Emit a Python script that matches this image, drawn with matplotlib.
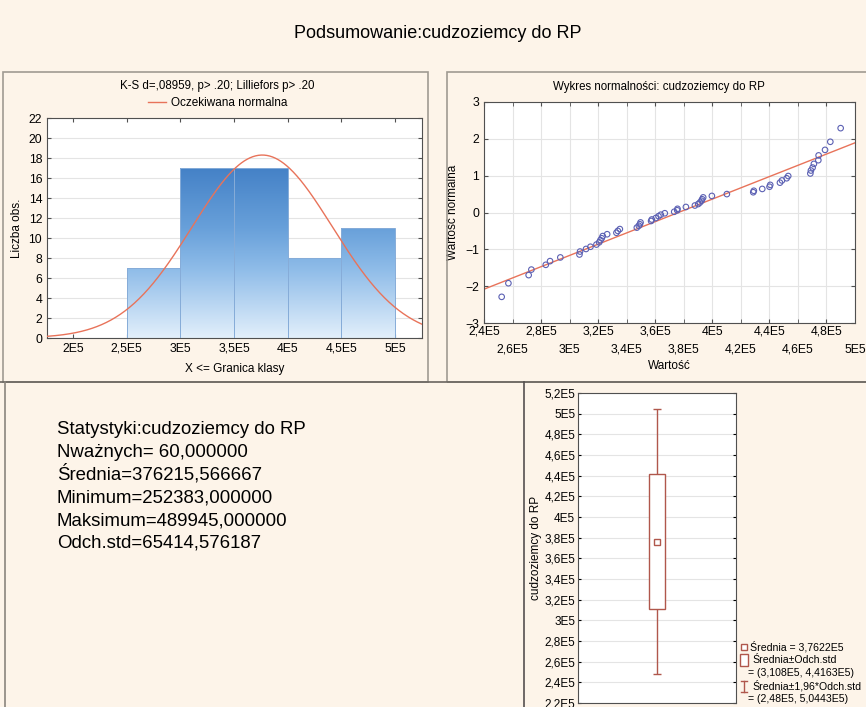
import matplotlib
matplotlib.use("Agg")
import matplotlib.pyplot as plt
import numpy as np
from matplotlib.colors import LinearSegmentedColormap
from matplotlib.patches import Rectangle
from matplotlib.lines import Line2D

plt.rcParams['font.family'] = ['Liberation Sans', 'DejaVu Sans']

values = [252383, 257100, 271300, 273200, 283300, 286300, 293500, 306900, 307300, 311500,
          314600, 318800, 320700, 321600, 322500, 323200, 326300, 332800, 333800, 335200,
          347100, 348500, 349200, 349700, 357100, 357600, 360400, 362300, 363900, 366700,
          373300, 375400, 375600, 381500, 387800, 390100, 391300, 392400, 392900, 393600,
          399700, 410200, 428700, 429100, 435000, 440100, 440600, 447400, 448800, 452100,
          453200, 468700, 469100, 470300, 471200, 474300, 474500, 479000, 482700, 489945]
normal_scores = [-2.29, -1.92, -1.70, -1.55, -1.42, -1.32, -1.22, -1.14, -1.06, -0.99,
                 -0.93, -0.87, -0.81, -0.75, -0.70, -0.64, -0.59, -0.55, -0.50, -0.45,
                 -0.41, -0.36, -0.32, -0.27, -0.23, -0.19, -0.15, -0.10, -0.06, -0.02,
                 0.02, 0.06, 0.10, 0.15, 0.19, 0.23, 0.27, 0.32, 0.36, 0.41,
                 0.45, 0.50, 0.55, 0.59, 0.64, 0.70, 0.75, 0.81, 0.87, 0.93,
                 0.99, 1.06, 1.14, 1.22, 1.32, 1.42, 1.55, 1.70, 1.92, 2.29]
bin_edges = [250000, 300000, 350000, 400000, 450000, 500000]

n_valid = 60
mean = 376215.566667
std = 65414.576187
minimum = 252383
maximum = 489945

stats_lines = ["Statystyki:cudzoziemcy do RP",
               "Nważnych= 60,000000",
               "Średnia=376215,566667",
               "Minimum=252383,000000",
               "Maksimum=489945,000000",
               "Odch.std=65414,576187"]
legend_lines = ["Średnia = 3,7622E5",
                "Średnia±Odch.std",
                "= (3,108E5, 4,4163E5)",
                "Średnia±1,96*Odch.std",
                "= (2,48E5, 5,0443E5)"]

W, H = 866, 707
BG = '#fdf4e9'
RED = '#e8735a'
BOXC = '#b0574c'
TICKFS = 8.8


def fx(px):
    return px / W


def fy(py):
    return 1 - py / H


def e5(v, pos=None):
    return f"{v / 1e5:g}".replace('.', ',') + "E5"


def style(ax):
    for s in ax.spines.values():
        s.set_color('#505050')
        s.set_linewidth(0.8)
    ax.tick_params(which='both', direction='in', length=3, labelsize=TICKFS, top=True,
                   right=True, color='#505050')


fig = plt.figure(figsize=(W / 100, H / 100), dpi=100)
fig.patch.set_facecolor(BG)

fig.text(fx(438), fy(33), "Podsumowanie:cudzoziemcy do RP", ha='center', va='center',
         fontsize=13)

# panel frames
fig.add_artist(Rectangle((fx(3), fy(382)), fx(425), (382 - 72) / H, fill=False,
                         ec='#a09a92', lw=1.2, transform=fig.transFigure))
fig.add_artist(Rectangle((fx(447), fy(382)), fx(425), (382 - 72) / H, fill=False,
                         ec='#a09a92', lw=1.2, transform=fig.transFigure))
fig.add_artist(Line2D([0, 1], [fy(382), fy(382)], color='#6a6560', lw=1.2,
                      transform=fig.transFigure))
fig.add_artist(Line2D([fx(5), fx(5)], [0, fy(382)], color='#8a857e', lw=1.2,
                      transform=fig.transFigure))
fig.add_artist(Line2D([fx(524), fx(524)], [0, fy(382)], color='#555050', lw=1.2,
                      transform=fig.transFigure))

# ---------- histogram ----------
ax1 = fig.add_axes([fx(47), fy(338), fx(375), 220 / H])
style(ax1)
counts, edges = np.histogram(values, bins=bin_edges)
cmap = LinearSegmentedColormap.from_list('bars', [(0, '#e2effb'), (0.32, '#8dbbe8'),
                                                  (0.5, '#68a0da'), (0.77, '#4582c7'),
                                                  (1, '#3572b8')])
grad = np.linspace(0, 1, 256).reshape(-1, 1)
bars = ax1.bar(edges[:-1], counts, width=np.diff(edges), align='edge',
               facecolor='none', edgecolor='#86acd8', linewidth=0.7, zorder=3)
for b in bars:
    im = ax1.imshow(grad, extent=[b.get_x(), b.get_x() + b.get_width(), 0, 22],
                    origin='lower', cmap=cmap, aspect='auto', zorder=2)
    im.set_clip_path(b)
xs = np.linspace(175700, 525000, 400)
binw = bin_edges[1] - bin_edges[0]
curve = n_valid * binw * np.exp(-0.5 * ((xs - mean) / std) ** 2) / (std * np.sqrt(2 * np.pi))
ax1.plot(xs, curve, color=RED, lw=1, zorder=4, label='Oczekiwana normalna')
ax1.set_xlim(175700, 525000)
ax1.set_ylim(0, 22)
ax1.set_yticks(range(0, 23, 2))
ax1.set_xticks(np.arange(200000, 500001, 50000))
ax1.xaxis.set_major_formatter(e5)
ax1.grid(axis='y', color='#e4e4e4', lw=0.8, zorder=0)
ax1.set_axisbelow(True)
ax1.set_ylabel("Liczba obs.", fontsize=8.5)
ax1.yaxis.set_label_coords(-0.064, 0.5)
ax1.set_xlabel("X <= Granica klasy", fontsize=8.5)
ax1.xaxis.set_label_coords(0.5, -0.115)
fig.legend(loc='center', bbox_to_anchor=(fx(218), fy(103)), frameon=False, fontsize=8.5,
           handlelength=1.5, handletextpad=0.45, borderpad=0)
fig.text(fx(217), fy(86), "K-S d=,08959, p> .20; Lilliefors p> .20", ha='center',
         va='center', fontsize=8.3)

# ---------- normal probability plot ----------
ax2 = fig.add_axes([fx(484), fy(323), fx(371), 221 / H])
style(ax2)
ax2.scatter(values, normal_scores, s=16, facecolors='none', edgecolors='#5b60b3',
            linewidths=0.8, zorder=3)
lx = np.array([240000, 500000])
ax2.plot(lx, (lx - mean) / std, color=RED, lw=1, zorder=2)
ax2.set_xlim(240000, 500000)
ax2.set_ylim(-3, 3)
ticks = np.arange(240000, 500001, 20000)
ax2.set_xticks(ticks[::2])
ax2.set_xticks(ticks[1::2], minor=True)
ax2.set_xticklabels([e5(t) for t in ticks[::2]])
ax2.set_xticklabels([e5(t) for t in ticks[1::2]], minor=True)
ax2.tick_params(axis='x', which='minor', pad=15)
ax2.tick_params(axis='x', which='major', pad=2)
ax2.set_yticks(range(-3, 4))
ax2.grid(which='both', color='#e4e4e4', lw=0.8, zorder=0)
ax2.set_axisbelow(True)
fig.text(fx(659), fy(87), "Wykres normalności: cudzoziemcy do RP", ha='center',
         va='center', fontsize=8.3)
ax2.set_xlabel("Wartość", fontsize=8.5)
ax2.xaxis.set_label_coords(0.5, -0.168)
ax2.set_ylabel("Wartość normalna", fontsize=8.5)
ax2.yaxis.set_label_coords(-0.068, 0.5)

# ---------- statistics text ----------
for i, line in enumerate(stats_lines):
    fig.text(fx(57), fy(434 + i * 22.8), line, ha='left', va='baseline', fontsize=13.4)

# ---------- box plot ----------
ax3 = fig.add_axes([fx(578), fy(703), fx(158), 310 / H])
for s in ax3.spines.values():
    s.set_color('#505050')
    s.set_linewidth(0.8)
ax3.tick_params(axis='y', direction='in', length=2, labelsize=8.5, right=True, pad=2)
ax3.tick_params(axis='x', bottom=False, labelbottom=False)
lo1, hi1 = mean - std, mean + std
lo2, hi2 = mean - 1.96 * std, mean + 1.96 * std
ax3.add_patch(Rectangle((-0.1, lo1), 0.2, hi1 - lo1, facecolor='white', edgecolor=BOXC,
                        lw=1, zorder=3))
ax3.vlines([0, 0], [lo2, hi1], [lo1, hi2], color=BOXC, lw=1, zorder=3)
ax3.hlines([lo2, hi2], -0.05, 0.05, color=BOXC, lw=1, zorder=3)
ax3.plot([0], [mean], marker='s', ms=4, mfc='white', mec=BOXC, mew=1, zorder=4)
ax3.set_xlim(-1, 1)
ax3.set_ylim(220000, 520000)
ax3.set_yticks(np.arange(220000, 520001, 20000))
ax3.yaxis.set_major_formatter(e5)
ax3.grid(axis='y', color='#e4e4e4', lw=0.8, zorder=0)
ax3.set_axisbelow(True)
ax3.set_ylabel("cudzoziemcy do RP", fontsize=8.5)
ax3.yaxis.set_label_coords(-0.225, 0.5)

# legend for the box plot, drawn by hand
leg_y = [647, 660, 673, 686, 699]
leg_x = [750, 752, 748, 752, 748]
for txt, x, y in zip(legend_lines, leg_x, leg_y):
    fig.text(fx(x), fy(y), txt, ha='left', va='center', fontsize=7.6)
fig.add_artist(Line2D([fx(743.5)], [fy(647)], ls='none', marker='s', ms=4, mfc='white',
                      mec=BOXC, mew=1, transform=fig.transFigure))
fig.add_artist(Rectangle((fx(740), fy(666)), fx(8), 12 / H, facecolor='white',
                         edgecolor=BOXC, lw=1, transform=fig.transFigure))
fig.add_artist(Line2D([fx(744), fx(744)], [fy(692), fy(681)], color=BOXC, lw=1,
                      transform=fig.transFigure))
fig.add_artist(Line2D([fx(741), fx(747)], [fy(692), fy(692)], color=BOXC, lw=1,
                      transform=fig.transFigure))
fig.add_artist(Line2D([fx(741), fx(747)], [fy(681), fy(681)], color=BOXC, lw=1,
                      transform=fig.transFigure))

fig.savefig("out.png", dpi=100, facecolor=BG)
